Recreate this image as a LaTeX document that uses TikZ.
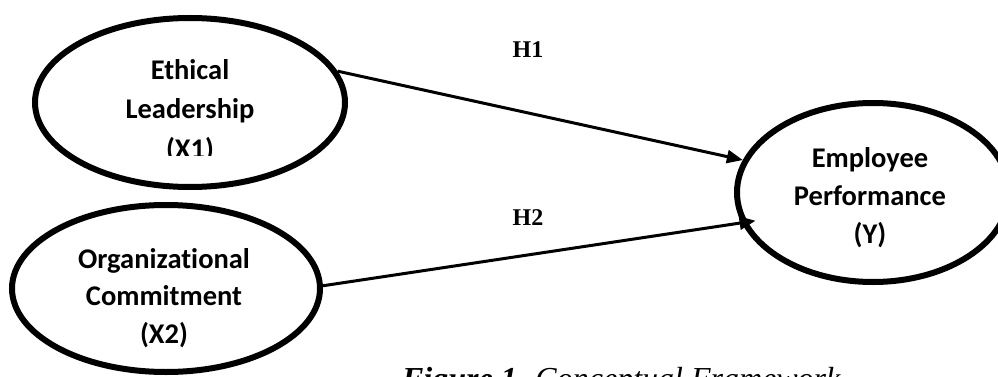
\documentclass[tikz,border=0pt]{standalone}
\usepackage{fontspec}
\setmainfont{Liberation Serif}
\newfontfamily\calibri{Carlito}[Ligatures=NoCommon]
\usetikzlibrary{shapes.geometric,arrows.meta}

\begin{document}
\begin{tikzpicture}[x=1pt,y=-1pt,
  construct/.style={ellipse, draw, line width=6pt, inner sep=0pt},
  varlabel/.style={anchor=base, inner sep=0pt, font=\calibri\bfseries\fontsize{28.5}{34}\selectfont},
  hyp/.style={anchor=base, inner sep=0pt, font=\bfseries\fontsize{24}{28}\selectfont},
  effect/.style={line width=3pt, -{Triangle[length=16pt,width=13pt]}}]

\useasboundingbox (0,0) rectangle (998,377);
\clip (0,0) rectangle (998,377);

% latent constructs
\node[construct, minimum width=310pt, minimum height=169pt] (lead) at (190,102.5) {};
\node[construct, minimum width=308pt, minimum height=167pt] (comm) at (166,288.5) {};
\node[construct, minimum width=272pt, minimum height=179pt] (perf) at (873,192.5) {};

% construct labels
\node[varlabel] (leadA) at (190,80) {Ethical};
\node[varlabel] (leadB) at (190,119) {Leadership};
\begin{scope}
  \clip (0,0) rectangle (998,155);
  \node[varlabel] (leadC) at (190,158) {(X1)};
\end{scope}

\node[varlabel] (commA) at (164,268) {Organizational};
\node[varlabel] (commB) at (164,305.5) {Commitment};
\node[varlabel] (commC) at (164,343) {(X2)};

\node[varlabel] (perfA) at (870,167) {Employee};
\node[varlabel] (perfB) at (870,205) {Performance};
\node[varlabel] (perfC) at (870,243) {(Y)};

% hypothesised paths
\draw[effect] (lead.12) -- (perf.166);
\draw[effect, shorten >=-14pt] (comm.1) -- (perf.193);

\node[hyp] (h1) at (528,58) {H1};
\node[hyp] (h2) at (528,225) {H2};

% caption, running past the lower edge
\node[anchor=base east, inner sep=0pt, font=\fontsize{32}{36}\selectfont] (cap) at (841,389)
  {\textbf{\textit{Figure 1.}} \textit{Conceptual Framework}};
\end{tikzpicture}
\end{document}
